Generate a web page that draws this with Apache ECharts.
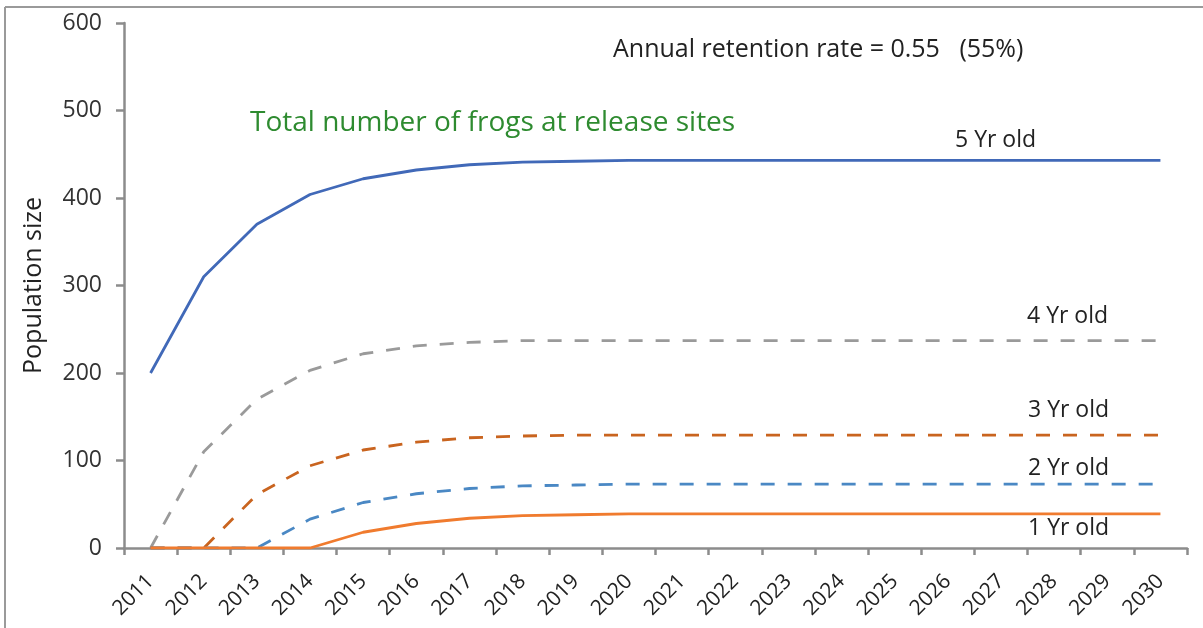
<!DOCTYPE html>
<html>
<head>
<meta charset="utf-8">
<script src="https://cdn.jsdelivr.net/npm/echarts@6/dist/echarts.min.js"></script>
<style>
  html, body { margin: 0; padding: 0; background: #fff; }
  #chart { width: 1203px; height: 628px; }
</style>
</head>
<body>
<div id="chart"></div>
<script>
// Years on the horizontal axis
var years = ['2011','2012','2013','2014','2015','2016','2017','2018','2019','2020',
             '2021','2022','2023','2024','2025','2026','2027','2028','2029','2030'];

// Population by age class at the release sites
var yr5 = [200, 310, 370, 404, 422, 432, 438, 441, 442, 443, 443, 443, 443, 443, 443, 443, 443, 443, 443, 443];
var yr4 = [0, 110, 170, 203, 222, 231, 235, 237, 237, 237, 237, 237, 237, 237, 237, 237, 237, 237, 237, 237];
var yr3 = [0, 0, 61, 94, 112, 121, 126, 128, 129, 129, 129, 129, 129, 129, 129, 129, 129, 129, 129, 129];
var yr2 = [0, 0, 0, 33, 52, 62, 68, 71, 72, 73, 73, 73, 73, 73, 73, 73, 73, 73, 73, 73];
var yr1 = [0, 0, 0, 0, 18, 28, 34, 37, 38, 39, 39, 39, 39, 39, 39, 39, 39, 39, 39, 39];

var yTicks = [0, 100, 200, 300, 400, 500, 600];

var FONT = '"Open Sans", "Noto Sans", sans-serif';

function line(name, data, color, dashed) {
  return {
    name: name,
    type: 'line',
    data: data,
    symbol: 'none',
    smooth: false,
    lineStyle: { color: color, width: 2.8, type: dashed ? [14, 13] : 'solid' },
    itemStyle: { color: color },
    animation: false
  };
}

function note(text, x, y, size, color) {
  return {
    type: 'text', x: x, y: y,
    style: { text: text, fill: color, font: size + 'px ' + FONT, verticalAlign: 'middle', align: 'left' }
  };
}

var chart = echarts.init(document.getElementById('chart'));
chart.setOption({
  backgroundColor: '#fff',
  animation: false,
  grid: { left: 124, right: 16, top: 23, bottom: 80, containLabel: false },
  xAxis: {
    type: 'category',
    data: years,
    boundaryGap: true,
    axisLine: { lineStyle: { color: '#8c8c8c', width: 2.5 } },
    axisTick: { show: true, length: 7, lineStyle: { color: '#8c8c8c', width: 2.5 } },
    axisLabel: { rotate: 45, color: '#222', fontSize: 21, fontFamily: FONT, margin: 30 }
  },
  yAxis: {
    type: 'value',
    min: yTicks[0],
    max: yTicks[yTicks.length - 1],
    interval: 100,
    name: 'Population size',
    nameLocation: 'middle',
    nameGap: 78,
    nameTextStyle: { color: '#222', fontSize: 25, fontFamily: FONT },
    axisLine: { show: true, lineStyle: { color: '#8c8c8c', width: 2.5 } },
    axisTick: { show: true, length: 8, lineStyle: { color: '#8c8c8c', width: 2.5 } },
    splitLine: { show: false },
    axisLabel: { color: '#333', fontSize: 23, fontFamily: FONT, margin: 22 }
  },
  series: [
    line('5 Yr old', yr5, '#4169B8', false),
    line('4 Yr old', yr4, '#9A9A9A', true),
    line('3 Yr old', yr3, '#C9641F', true),
    line('2 Yr old', yr2, '#4A88C4', true),
    line('1 Yr old', yr1, '#F07B2E', false)
  ],
  graphic: [
    { type: 'line', shape: { x1: 5, y1: 7, x2: 1203, y2: 7 }, style: { stroke: '#9a9a9a', lineWidth: 2 } },
    { type: 'line', shape: { x1: 5, y1: 7, x2: 5, y2: 628 }, style: { stroke: '#9a9a9a', lineWidth: 2 } },
    note('Annual retention rate = 0.55   (55%)', 613, 50, 25, '#222'),
    note('Total number of frogs at release sites', 250, 123, 28, '#2E8B30'),
    note('5 Yr old', 955, 140, 23, '#222'),
    note('4 Yr old', 1027, 316, 23, '#222'),
    note('3 Yr old', 1028, 410, 23, '#222'),
    note('2 Yr old', 1028, 468, 23, '#222'),
    note('1 Yr old', 1028, 528, 23, '#222')
  ]
});
</script>
</body>
</html>
